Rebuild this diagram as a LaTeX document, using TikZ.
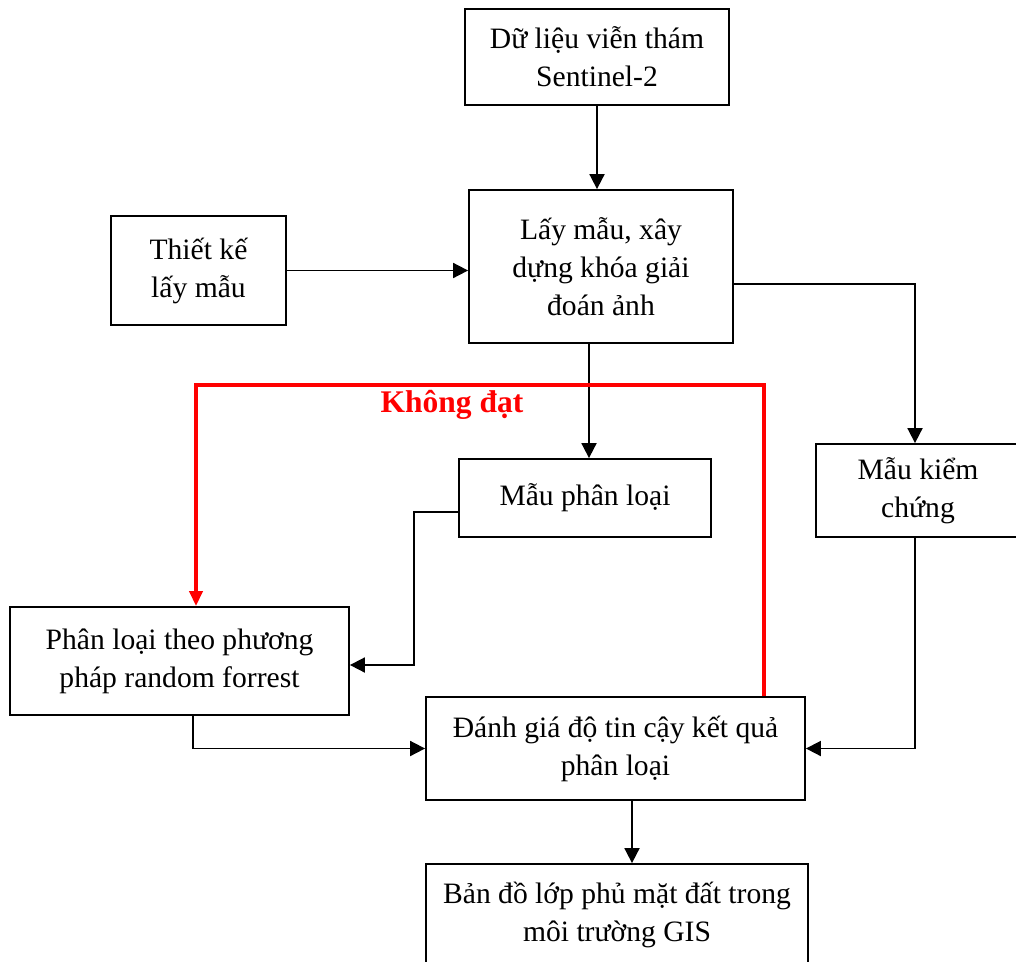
\documentclass[tikz,border=0pt]{standalone}
\usepackage{fontspec}
\setmainfont{Liberation Serif}
\usetikzlibrary{arrows.meta}
\definecolor{Fail}{RGB}{255,0,0}

\begin{document}
\begin{tikzpicture}[x=1pt,y=-1pt,
  stepbox/.style={draw,line width=1.8pt,align=center,inner sep=0pt,font=\fontsize{29.6}{38}\selectfont},
  flow/.style={-{Triangle[length=15pt,width=15pt]},line width=1.8pt},
  fail/.style={-{Triangle[length=15pt,width=13pt]},line width=3.6pt,Fail},
  failtext/.style={text=Fail,font=\fontsize{31.5}{38}\selectfont\bfseries}]
\clip (0,0) rectangle (1016,961);
\node[stepbox,minimum width=264pt,minimum height=96pt] (src) at (597,57) {Dữ liệu viễn thám\\Sentinel-2};
\node[stepbox,minimum width=264pt,minimum height=153pt] (keys) at (601,266.5) {Lấy mẫu, xây\\dựng khóa giải\\đoán ảnh};
\node[stepbox,minimum width=175pt,minimum height=109pt] (design) at (198.5,270.5) {Thiết kế\\lấy mẫu};
\node[stepbox,minimum width=252pt,minimum height=78pt] (train) at (585,498) {Mẫu phân loại};
\node[stepbox,minimum width=204pt,minimum height=93pt] (check) at (918,490.5) {Mẫu kiểm\\chứng};
\node[stepbox,minimum width=339pt,minimum height=108pt] (rf) at (179.5,661) {Phân loại theo phương\\pháp random forrest};
\node[stepbox,minimum width=379pt,minimum height=103pt] (acc) at (615.5,748.5) {Đánh giá độ tin cậy kết quả\\phân loại};
\node[stepbox,minimum width=382pt,minimum height=102pt] (map) at (617,915) {Bản đồ lớp phủ mặt đất trong\\môi trường GIS};
\node[failtext] (nopass) at (452,405) {Không đạt};
\draw[flow] (src.south) -- (src.south |- keys.north); \draw[flow] (design.east) -- (design.east -| keys.west);
\draw[flow] ([yshift=-17.5pt]keys.east) -| ([xshift=-3pt]check.north); \draw[flow] ([xshift=-12pt]keys.south) -- ([xshift=-12pt]keys.south |- train.north);
\draw[flow] ([yshift=-14pt]train.west) -- ++(-44,0) |- ([yshift=-4pt]rf.east); \draw[flow] ([xshift=13.5pt]rf.south) |- (acc.west);
\draw[flow] ([xshift=-3pt]check.south) |- (acc.east); \draw[flow] ([xshift=16.5pt]acc.south) -- ([xshift=16.5pt]acc.south |- map.north);
\draw[fail] ([xshift=148.5pt]acc.north) -- ++(0,-311) -| ([xshift=16.5pt]rf.north);
\end{tikzpicture}
\end{document}
